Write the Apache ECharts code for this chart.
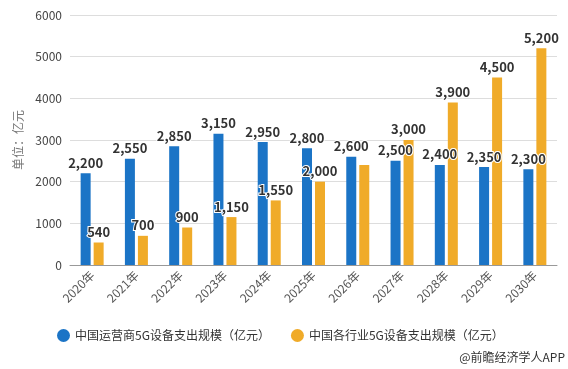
<!DOCTYPE html>
<html><head><meta charset="utf-8">
<script src="https://cdn.jsdelivr.net/npm/echarts@6/dist/echarts.min.js"></script>
<style>html,body{margin:0;padding:0;background:#fff}#c{width:568px;height:369px}</style>
</head><body><div id="c"></div>
<script>
const categories = ['2020年','2021年','2022年','2023年','2024年','2025年','2026年','2027年','2028年','2029年','2030年'];
const operatorSpend = [2200,2550,2850,3150,2950,2800,2600,2500,2400,2350,2300];
const industrySpend = [540,700,900,1150,1550,2000,2400,3000,3900,4500,5200];
const industryLabelHidden = ['2026年'];
const seriesNames = ['中国运营商5G设备支出规模（亿元）','中国各行业5G设备支出规模（亿元）'];
const yTicks = {min:0,max:6000,interval:1000};

const chart = echarts.init(document.getElementById('c'));
const fmt = p => Number(p.value).toLocaleString('en-US');
const lbl = {show:true,position:'top',distance:4,formatter:fmt,fontSize:13,fontWeight:'bold',color:'#333',textBorderColor:'#fff',textBorderWidth:2,fontFamily:'Noto Sans CJK SC'};
chart.setOption({
  animation:false,
  textStyle:{fontFamily:'Noto Sans CJK SC'},
  grid:{left:70,right:11,top:15,bottom:104},
  legend:{bottom:22,left:52,itemGap:21,icon:'circle',itemWidth:13,itemHeight:13,textStyle:{fontSize:12,color:'#333'},data:seriesNames},
  graphic:[{type:'text',right:3,bottom:6,style:{text:'@前瞻经济学人APP',fontSize:12,fill:'#333',fontFamily:'Noto Sans CJK SC'}}],
  xAxis:{type:'category',data:categories,axisLine:{lineStyle:{color:'#999'}},axisTick:{alignWithLabel:true,lineStyle:{color:'#999'}},axisLabel:{rotate:45,color:'#555',fontSize:12,margin:8}},
  yAxis:{type:'value',min:yTicks.min,max:yTicks.max,interval:yTicks.interval,name:'单位：亿元',nameLocation:'middle',nameGap:46,nameTextStyle:{color:'#777',fontSize:12},axisLine:{show:false},axisTick:{show:false},axisLabel:{color:'#444',fontSize:12,formatter:v=>String(v)},splitLine:{lineStyle:{color:'#ddd'}}},
  series:[
    {name:seriesNames[0],type:'bar',data:operatorSpend,barWidth:10,barGap:'30%',itemStyle:{color:'#1b74c6'},label:lbl},
    {name:seriesNames[1],type:'bar',data:industrySpend.map((v,i)=>industryLabelHidden.includes(categories[i])?{value:v,label:{show:false}}:v),barWidth:10,itemStyle:{color:'#f0ab29'},label:lbl}
  ]
});
</script></body></html>
